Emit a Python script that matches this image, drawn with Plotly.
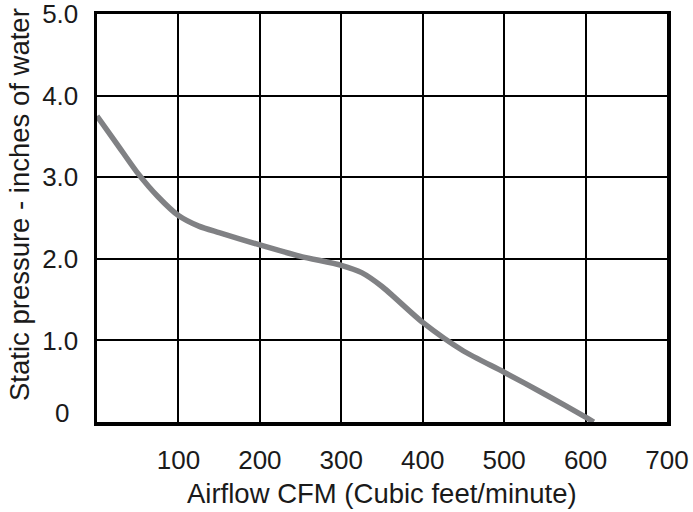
import plotly.graph_objects as go

# Data
airflow_cfm = [0, 25, 50, 75, 100, 125, 150, 200, 250, 300, 325, 350, 400, 450, 500, 550, 600, 610]
static_pressure = [3.75, 3.40, 3.05, 2.76, 2.53, 2.40, 2.32, 2.17, 2.03, 1.92, 1.83, 1.66, 1.22, 0.87, 0.61, 0.34, 0.06, 0.0]

x_tick_vals = [100, 200, 300, 400, 500, 600, 700]
x_tick_text = ["100", "200", "300", "400", "500", "600", "700"]
y_tick_vals = [1, 2, 3, 4, 5]
y_tick_text = ["1.0", "2.0", "3.0", "4.0", "5.0"]

FONT = "Liberation Sans, Arial, Helvetica, sans-serif"
TXT = "#1a1a1a"

fig = go.Figure()
fig.add_trace(go.Scatter(
    x=airflow_cfm, y=static_pressure, mode="lines",
    line=dict(color="#808184", width=5.5, shape="spline", smoothing=0.7),
    hoverinfo="skip", showlegend=False,
))

fig.update_layout(
    width=693, height=512,
    margin=dict(l=97, r=26, t=14, b=90, autoexpand=False),
    paper_bgcolor="white", plot_bgcolor="white",
    font=dict(family=FONT, size=26, color=TXT),
    showlegend=False,
)
fig.update_xaxes(
    range=[0, 700], tickvals=x_tick_vals, ticktext=x_tick_text,
    showgrid=True, gridcolor="black", gridwidth=2,
    showline=True, linecolor="black", linewidth=3.5, mirror=True,
    ticks="", ticklabelstandoff=12, zeroline=False, automargin=False,
    ticklabeloverflow="allow",
    tickfont=dict(size=26, family=FONT, color=TXT),
)
fig.update_yaxes(
    range=[0, 5], tickvals=y_tick_vals, ticktext=y_tick_text,
    showgrid=True, gridcolor="black", gridwidth=2,
    showline=True, linecolor="black", linewidth=3.5, mirror=True,
    ticks="", ticklabelstandoff=10, zeroline=False, automargin=False,
    ticklabeloverflow="allow",
    tickfont=dict(size=26, family=FONT, color=TXT),
)

fig.add_annotation(text="0", xref="paper", yref="paper", x=-0.0614, y=0.022,
                   showarrow=False, font=dict(size=26, family=FONT, color=TXT),
                   xanchor="center", yanchor="middle")
fig.add_annotation(text="Airflow CFM (Cubic feet/minute)", xref="paper", yref="paper",
                   x=0.5, y=-0.176, showarrow=False,
                   font=dict(size=27.5, family=FONT, color=TXT),
                   xanchor="center", yanchor="middle")
fig.add_annotation(text="Static pressure - inches of water", xref="paper", yref="paper",
                   x=-0.135, y=0.532, textangle=-90, showarrow=False,
                   font=dict(size=27.5, family=FONT, color=TXT),
                   xanchor="center", yanchor="middle")

fig.write_html("out.html", config={"displayModeBar": False, "staticPlot": True},
               post_script="document.body.style.margin='0';")
